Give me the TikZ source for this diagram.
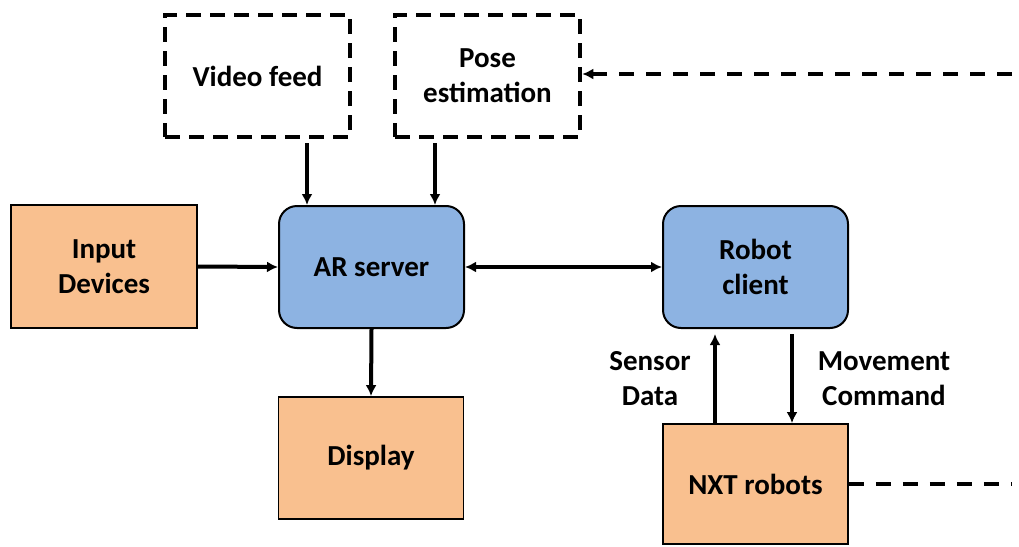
\documentclass[tikz,border=0pt]{standalone}
\usepackage{fontspec}
\setmainfont{Carlito}
\usetikzlibrary{arrows.meta}
\definecolor{boxorange}{HTML}{F9C08F}
\definecolor{boxblue}{HTML}{8DB3E2}
\tikzset{
  block/.style={draw=black, line width=1.8pt, minimum width=185pt, minimum height=122pt,
                align=center, inner sep=0pt, anchor=center},
  periph/.style={block, fill=boxorange},
  core/.style={block, fill=boxblue, rounded corners=18pt, line width=2pt},
  source/.style={block, line width=4.5pt, dash pattern=on 15pt off 9pt},
  tip/.tip={Latex[length=11pt,width=11pt]},
  link/.style={line width=4pt, -tip},
  twoway/.style={line width=4pt, tip-tip},
  feedback/.style={line width=3.5pt, dash pattern=on 15pt off 12pt},
  lbl/.style={align=center, inner sep=0pt}
}
\begin{document}
\begin{tikzpicture}[x=1pt, y=-1pt, font=\bfseries\fontsize{29}{35}\selectfont]
  \useasboundingbox (0,0) rectangle (1019,546);

  % upstream data sources
  \node[source] (video) at (257.5,76) {Video feed};
  \node[source] (pose)  at (487.5,76) {Pose\\estimation};

  % processing and peripherals
  \node[periph, minimum width=186pt, minimum height=123pt] (input) at (104,266.5) {Input\\Devices};
  \node[core]   (ar)      at (371.5,267) {AR server};
  \node[core]   (robot)   at (755.5,267) {Robot\\client};
  \node[periph] (display) at (371,458) {Display};
  \node[periph, minimum height=120pt] (nxt) at (755.5,484) {NXT robots};

  % edge labels
  \node[lbl] (sensor) at (650,379) {Sensor\\Data};
  \node[lbl] (move)   at (884,379) {Movement\\Command};

  % connectors
  \draw[link] ([xshift=49.5pt,yshift=-4pt]video.south) -- ([xshift=-64.5pt]ar.north);
  \draw[link] ([xshift=-52.5pt,yshift=-4pt]pose.south) -- ([xshift=63.5pt]ar.north);
  \draw[link] (input.east) -- (ar.west);
  \draw[twoway] (ar.east) -- (robot.west);
  \draw[link] (ar.south) -- (display.north);
  \draw[link] ([xshift=-40.5pt]nxt.north) -- ([xshift=-40.5pt,yshift=-5pt]robot.south);
  \draw[link] ([xshift=36.5pt,yshift=-5pt]robot.south) -- ([xshift=36.5pt]nxt.north);

  % tracking loop from the robots back to pose estimation
  \coordinate (feedin)  at (1012,74);
  \coordinate (feedout) at (1012,485);
  \draw[feedback, -tip] (feedin) -- (feedin -| pose.east);
  \draw[feedback] (nxt.east) -- (nxt.east -| feedout);
\end{tikzpicture}
\end{document}
